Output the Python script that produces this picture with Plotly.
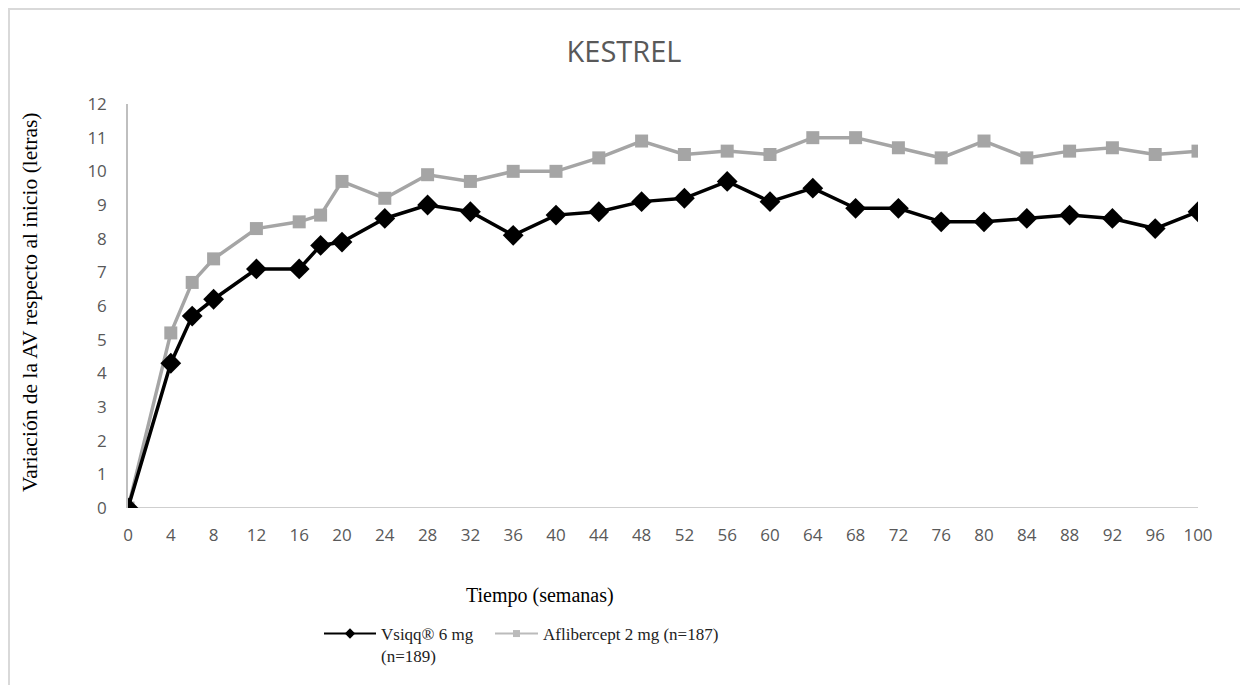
import plotly.graph_objects as go

weeks = [0, 4, 6, 8, 12, 16, 18, 20, 24, 28, 32, 36, 40, 44, 48, 52, 56, 60, 64, 68, 72, 76, 80, 84, 88, 92, 96, 100]
vsiqq = [0, 4.3, 5.7, 6.2, 7.1, 7.1, 7.8, 7.9, 8.6, 9.0, 8.8, 8.1, 8.7, 8.8, 9.1, 9.2, 9.7, 9.1, 9.5, 8.9, 8.9, 8.5, 8.5, 8.6, 8.7, 8.6, 8.3, 8.8]
aflibercept = [0, 5.2, 6.7, 7.4, 8.3, 8.5, 8.7, 9.7, 9.2, 9.9, 9.7, 10.0, 10.0, 10.4, 10.9, 10.5, 10.6, 10.5, 11.0, 11.0, 10.7, 10.4, 10.9, 10.4, 10.6, 10.7, 10.5, 10.6]
x_ticks = list(range(0, 101, 4))
y_ticks = list(range(0, 13))

name_vsiqq = "Vsiqq® 6 mg<br>(n=189)"
name_afli = "Aflibercept 2 mg (n=187)"
title_text = "KESTREL"
x_title = "Tiempo (semanas)"
y_title = "Variación de la AV respecto al inicio (letras)"

OFF = 8  # page body margin
W, H = 1248 - OFF, 685 - OFF
L, R, T, B = 128 - OFF, 50, 104 - OFF, 177
pw, ph = W - L - R, H - T - B

def px_x(p):
    return (p - OFF - L) / pw

def px_y(p):
    return (H - B - (p - OFF)) / ph

BLACK = "#000000"
GRAY = "#A5A5A5"

fig = go.Figure()
fig.add_trace(go.Scatter(
    x=weeks, y=aflibercept, name=name_afli, mode="lines+markers", showlegend=False,
    line=dict(color=GRAY, width=3.5),
    marker=dict(symbol="square", size=13, color=GRAY),
))
fig.add_trace(go.Scatter(
    x=weeks, y=vsiqq, name=name_vsiqq, mode="lines+markers", showlegend=False,
    line=dict(color=BLACK, width=3.5),
    marker=dict(symbol="diamond", size=16, color=BLACK),
))
# legend entries (thin line, small marker as in the reference)
fig.add_trace(go.Scatter(
    x=[None], y=[None], name=name_vsiqq, mode="lines+markers", legend="legend",
    line=dict(color=BLACK, width=2), marker=dict(symbol="diamond", size=8, color=BLACK),
))
fig.add_trace(go.Scatter(
    x=[None], y=[None], name=name_afli, mode="lines+markers", legend="legend2",
    line=dict(color="#BBBBBB", width=2), marker=dict(symbol="square", size=7, color="#BBBBBB"),
))

tick_font = dict(family="Open Sans, Liberation Sans, sans-serif", size=17, color="#595959")
serif = "Liberation Serif, DejaVu Serif, serif"
legend_font = dict(family=serif, size=17, color="#222222")

fig.update_layout(
    width=W, height=H,
    margin=dict(l=L, r=R, t=T, b=B, autoexpand=False),
    paper_bgcolor="white", plot_bgcolor="white",
    title=dict(text=title_text, x=(624 - OFF) / W, xref="container", xanchor="center",
               y=1 - (52 - OFF) / H, yref="container", yanchor="middle",
               font=dict(family="Open Sans, Liberation Sans, sans-serif", size=29, color="#595959")),
    xaxis=dict(range=[0, 100], tickvals=x_ticks, ticktext=[str(v) for v in x_ticks],
               showgrid=False, zeroline=False, showline=False,
               ticks="", tickfont=tick_font, ticklabelstandoff=15),
    yaxis=dict(range=[0, 12], tickvals=y_ticks, showgrid=False, zeroline=False,
               showline=True, linecolor="#BFBFBF", linewidth=1.5,
               ticks="", tickfont=tick_font, ticklabelstandoff=16),
    showlegend=True,
    legend=dict(orientation="h", x=px_x(319), y=px_y(616), xanchor="left", yanchor="top",
                valign="top", font=legend_font, itemwidth=52, bgcolor="rgba(0,0,0,0)"),
    legend2=dict(orientation="h", x=px_x(490), y=px_y(616), xanchor="left", yanchor="top",
                 valign="top", font=legend_font, itemwidth=43, bgcolor="rgba(0,0,0,0)"),
)

# x axis line at y=0
fig.add_shape(type="line", xref="x", yref="y", x0=0, x1=100, y0=0, y1=0,
              line=dict(color="#BFBFBF", width=1.5), layer="below")

fig.add_annotation(text=y_title, xref="paper", yref="paper", x=px_x(30), y=px_y(302),
                   textangle=-90, showarrow=False, xanchor="center", yanchor="middle",
                   font=dict(family=serif, size=21.5, color="#000000"))
fig.add_annotation(text=x_title, xref="paper", yref="paper", x=px_x(540), y=px_y(595),
                   showarrow=False, xanchor="center", yanchor="middle",
                   font=dict(family=serif, size=20, color="#000000"))

# outer frame
fig.add_shape(type="rect", xref="paper", yref="paper",
              x0=px_x(OFF + 1), x1=px_x(1245), y0=px_y(720), y1=px_y(OFF + 1),
              line=dict(color="#D9D9D9", width=2), fillcolor="rgba(0,0,0,0)")

fig.write_html("out.html")
